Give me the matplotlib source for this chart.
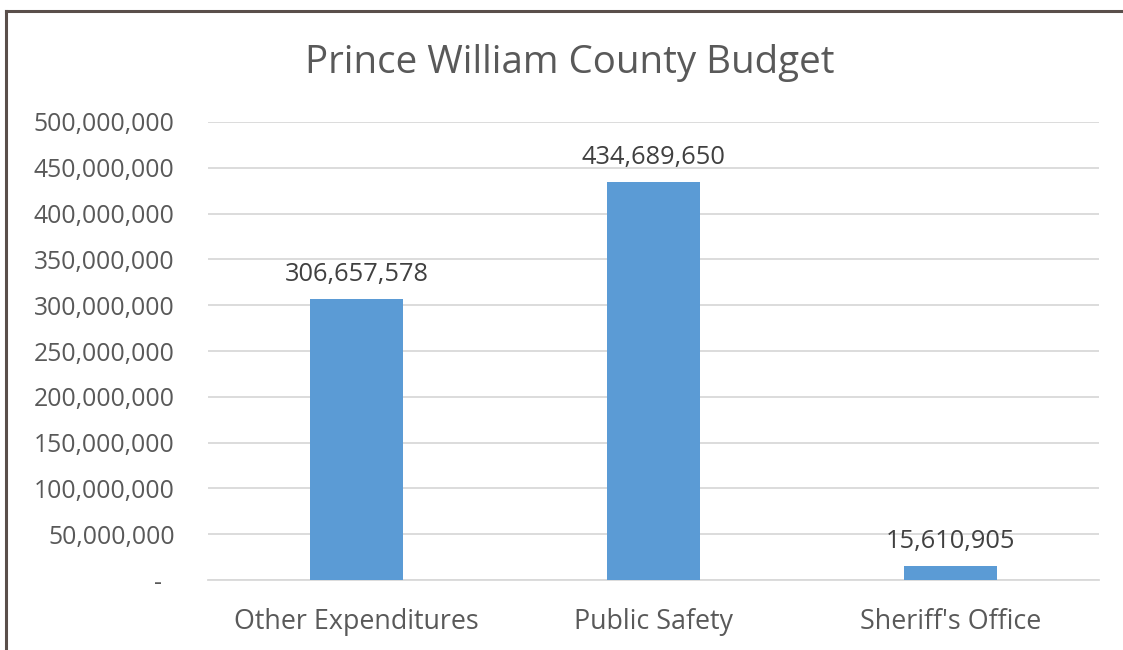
import matplotlib.pyplot as plt
from matplotlib.lines import Line2D
from matplotlib.ticker import FuncFormatter

categories = ["Other Expenditures", "Public Safety", "Sheriff's Office"]
budget = [306657578, 434689650, 15610905]
yticks = [0, 50e6, 100e6, 150e6, 200e6, 250e6, 300e6, 350e6, 400e6, 450e6, 500e6]

plt.rcParams['font.family'] = ['Open Sans', 'DejaVu Sans']

W, H = 1123, 650
fig = plt.figure(figsize=(W / 100, H / 100), dpi=100)
ax = fig.add_axes([208 / W, 1 - 580 / H, 891 / W, 458 / H])

x = range(len(categories))
ax.bar(x, budget, width=0.313, color="#5B9BD5", zorder=3)
ax.set_xlim(-0.5, 2.5)
ax.set_ylim(0, 500e6)
ax.set_yticks(yticks)

def fmt(v, pos):
    if v == 0:
        return "-  "
    return "{:,.0f}".format(v)

ax.yaxis.set_major_formatter(FuncFormatter(fmt))
ax.set_xticks(list(x))
ax.set_xticklabels(categories)

ax.grid(axis="y", color="#D9D9D9", linewidth=1.3, zorder=0)
for s in ["top", "right", "left"]:
    ax.spines[s].set_visible(False)
ax.spines["bottom"].set_color("#D9D9D9")
ax.spines["bottom"].set_linewidth(1.3)
ax.tick_params(axis="both", length=0, colors="#595959")
ax.tick_params(axis="y", pad=24, labelsize=17.8)
ax.tick_params(axis="x", pad=20.5, labelsize=19.4)

for i, v in enumerate(budget):
    ax.annotate("{:,}".format(v), (i, v), xytext=(0, 8.5), textcoords="offset points",
                ha="center", va="bottom", fontsize=18.3, color="#404040", zorder=4)

fig.text(570 / W, 1 - 63 / H, "Prince William County Budget", ha="center", va="center",
         fontsize=27.7, color="#595959")

# chart border (only left and top visible)
fig.add_artist(Line2D([6 / W, 6 / W], [-0.1, 1 - 11 / H], transform=fig.transFigure,
                      color="#5A4F4B", linewidth=2.2))
fig.add_artist(Line2D([6 / W, 1.1], [1 - 11 / H, 1 - 11 / H], transform=fig.transFigure,
                      color="#5A4F4B", linewidth=2.2))

fig.savefig("out.png", dpi=100)
